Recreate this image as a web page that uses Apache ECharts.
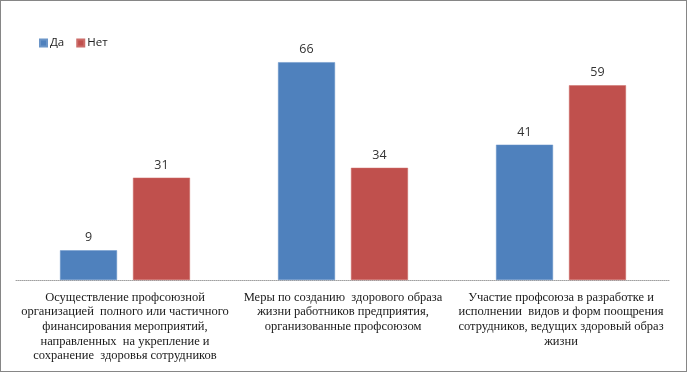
<!DOCTYPE html>
<html><head><meta charset="utf-8">
<script src="https://cdn.jsdelivr.net/npm/echarts@6/dist/echarts.min.js"></script>
<style>html,body{margin:0;padding:0;background:#fff}#c{width:687px;height:372px;box-sizing:border-box;border:1px solid #868686}</style>
</head><body><div id="c"></div>
<script>
var categories = [
  "Осуществление профсоюзной\nорганизацией  полного или частичного\nфинансирования мероприятий,\nнаправленных  на укрепление и\nсохранение  здоровья сотрудников",
  "Меры по созданию  здорового образа\nжизни работников предприятия,\nорганизованные профсоюзом",
  "Участие профсоюза в разработке и\nисполнении  видов и форм поощрения\nсотрудников, ведущих здоровый образ\nжизни"
];
var seriesNames = ["Да", "Нет"];
var yesValues = [9, 66, 41];
var noValues = [31, 34, 59];

var chart = echarts.init(document.getElementById('c'));
var lbl = {show:true, position:'top', distance:6, color:'#333', fontSize:12.5, fontFamily:'Open Sans, Liberation Sans, sans-serif'};
chart.setOption({
  animation:false,
  legend:{left:33, top:31, itemWidth:7, itemHeight:7, itemGap:12, icon:'rect',
    textStyle:{fontSize:11.5, color:'#222', fontFamily:'Open Sans, Liberation Sans, sans-serif', padding:[0,0,0,-2]},
    data:seriesNames},
  grid:{left:15, right:16, top:48, bottom:91},
  xAxis:{type:'category', data:categories,
    axisLine:{lineStyle:{color:'#a0a0a0', type:'dotted', width:1}},
    axisTick:{show:false},
    axisLabel:{interval:0, margin:10, color:'#1a1a1a', fontSize:12.5, lineHeight:14.7,
      fontFamily:'Liberation Serif, DejaVu Serif, serif'}},
  yAxis:{type:'value', min:0, max:70, show:false, splitLine:{show:false}},
  series:[
    {name:seriesNames[0], type:'bar', data:yesValues, barWidth:57, barGap:'28%',
     itemStyle:{color:'#4F81BD', borderColor:'#6b95c8', borderWidth:0.5}, label:lbl},
    {name:seriesNames[1], type:'bar', data:noValues, barWidth:57,
     itemStyle:{color:'#C0504D', borderColor:'#cc6c69', borderWidth:0.5}, label:lbl}
  ]
});
</script></body></html>
